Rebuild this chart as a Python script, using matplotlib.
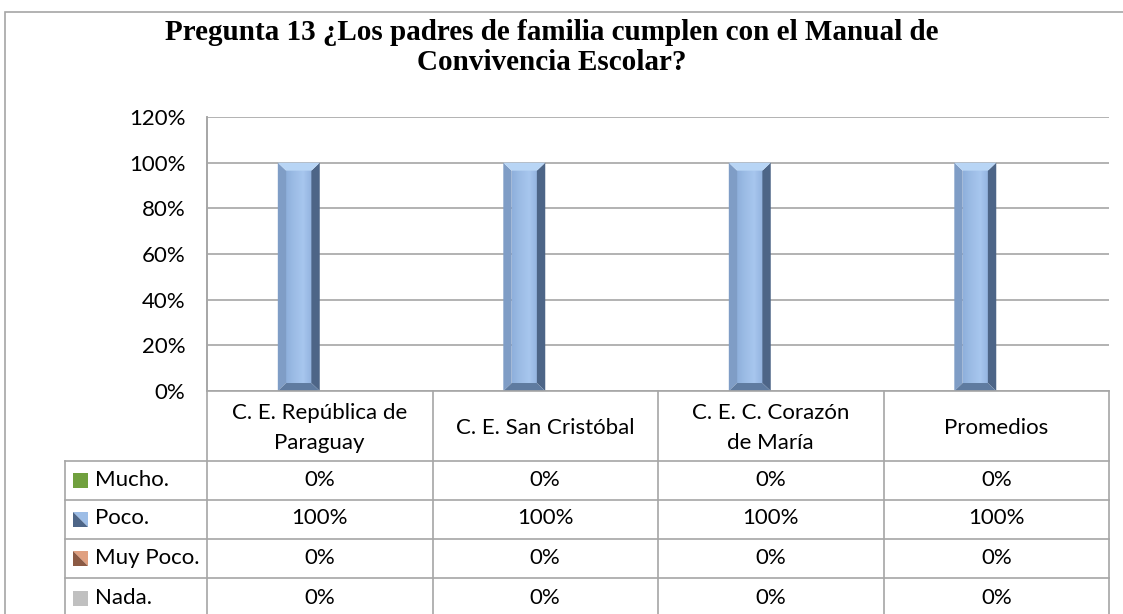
import numpy as np
import matplotlib.pyplot as plt
import matplotlib.transforms as mtransforms
from matplotlib.patches import Polygon, Rectangle

# data
categories = ["C. E. República de\nParaguay", "C. E. San Cristóbal",
              "C. E. C. Corazón\nde María", "Promedios"]
series_names = ["Mucho.", "Poco.", "Muy Poco.", "Nada."]
mucho = [0, 0, 0, 0]
poco = [100, 100, 100, 100]
muy_poco = [0, 0, 0, 0]
nada = [0, 0, 0, 0]
y_ticks = [0, 20, 40, 60, 80, 100, 120]

# colours per series: (face, left, right, top, bottom)
SERIES_COLORS = [
    ("#70a03e", "#5f8a33", "#46692a", "#8dbb5a", "#527a2e"),
    ("#9dbde6", "#7f9dc6", "#4d6587", "#b8d5f5", "#5f7ba0"),
    ("#e0a080", "#c08466", "#8c5a44", "#f0bba0", "#a06a50"),
    ("#c0c0c0", "#a8a8a8", "#808080", "#d8d8d8", "#969696"),
]
GRID = "#a6a6a6"
FONT = "Lato"
FS = 16

W, H = 1123, 614
fig = plt.figure(figsize=(W / 100, H / 100), dpi=100)


def px(x, y):
    """figure fraction from pixel position (top-left origin)"""
    return x / W, 1 - y / H


left, top = px(207, 117)
_, bottom = px(207, 391)
right, _ = px(1109, 117)
ax = fig.add_axes([left, bottom, right - left, top - bottom])

values = [mucho, poco, muy_poco, nada]
n = len(series_names)
bar_w = 0.186
x = np.arange(len(categories))


def bevel_bar(x0, x1, y0, y1, cols):
    dx = (x1 - x0) * 0.2
    dy = 3.5
    face, lc, rc, tc, bc = cols
    # face with a soft horizontal gradient
    grad = np.linspace(0, 1, 50).reshape(1, -1)
    ax.imshow(grad, extent=(x0 + dx, x1 - dx, y0 + dy, y1 - dy), aspect="auto",
              cmap=plt.matplotlib.colors.LinearSegmentedColormap.from_list(
                  "g", ["#8fb0dc", face, "#a7c6ee", "#93b3df"]),
              zorder=3.1)
    facets = [
        ([(x0, y0), (x0 + dx, y0 + dy), (x0 + dx, y1 - dy), (x0, y1)], lc),
        ([(x1, y0), (x1 - dx, y0 + dy), (x1 - dx, y1 - dy), (x1, y1)], rc),
        ([(x0, y1), (x0 + dx, y1 - dy), (x1 - dx, y1 - dy), (x1, y1)], tc),
        ([(x0, y0), (x1, y0), (x1 - dx, y0 + dy), (x0 + dx, y0 + dy)], bc),
    ]
    for pts, c in facets:
        ax.add_patch(Polygon(pts, closed=True, facecolor=c, edgecolor="none", zorder=3.2))


for i, vals in enumerate(values):
    bars = ax.bar(x + (i - (n - 1) / 2) * bar_w, vals, width=bar_w, color="none", zorder=2)
    for b in bars:
        if b.get_height() > 0:
            bevel_bar(b.get_x(), b.get_x() + b.get_width(), 0, b.get_height(), SERIES_COLORS[i])

ax.set_xlim(-0.5, len(categories) - 0.5)
ax.set_ylim(0, 120)
ax.set_yticks(y_ticks)
ax.set_yticklabels([f"{t}%" for t in y_ticks], fontsize=FS, family=FONT)
ax.tick_params(axis="y", length=0, pad=15.5)
ax.set_xticks([])
ax.grid(True, axis="y", color=GRID, linewidth=1.2, zorder=1)
for s in ["top", "right", "bottom"]:
    ax.spines[s].set_visible(False)
ax.spines["left"].set_color(GRID)
ax.spines["left"].set_linewidth(1.2)

# data table below the chart
tr = mtransforms.blended_transform_factory(ax.transData, fig.transFigure)
row_edges = [391, 461, 500, 539, 578, 620]
xl = -0.5
xr = len(categories) - 0.5
_, yf = px(0, 391)
fig.add_artist(plt.Line2D([xl, xr], [yf, yf], transform=tr, color=GRID, lw=1.2))
for r in row_edges[1:-1]:
    fig.add_artist(plt.Line2D([65 / W, right], [px(0, r)[1]] * 2,
                              transform=fig.transFigure, color=GRID, lw=1.2))
# vertical lines
fig.add_artist(plt.Line2D([left, left], [px(0, 117)[1], 0], transform=fig.transFigure,
                          color=GRID, lw=1.2))
fig.add_artist(plt.Line2D([65 / W, 65 / W], [px(0, 461)[1], 0], transform=fig.transFigure,
                          color=GRID, lw=1.2))
for b in np.arange(len(categories)) + 0.5:
    fig.add_artist(plt.Line2D([b, b], [yf, 0], transform=tr, color=GRID, lw=1.2))

# header row
hy = px(0, (row_edges[0] + row_edges[1]) / 2 + 2)[1]
for xi, c in zip(x, categories):
    fig.text(xi, hy, c, transform=tr, ha="center", va="center", fontsize=FS,
             family=FONT, linespacing=1.6)

# value rows
for r, (name, vals) in enumerate(zip(series_names, values)):
    yc = px(0, (row_edges[r + 1] + row_edges[r + 2]) / 2 - 1)[1]
    for xi, v in zip(x, vals):
        fig.text(xi, yc, f"{v}%", transform=tr, ha="center", va="center",
                 fontsize=FS, family=FONT)
    fig.text(95 / W, yc, name, ha="left", va="center", fontsize=FS, family=FONT)
    # legend key
    kx, ky = px(73, (row_edges[r + 1] + row_edges[r + 2]) / 2 - 8)
    kw, kh = 15 / W, 15 / H
    cols = SERIES_COLORS[r]
    if r in (0, 3):
        fig.add_artist(Rectangle((kx, ky - kh), kw, kh, transform=fig.transFigure,
                                 facecolor=cols[0], edgecolor="none"))
    else:
        fig.add_artist(Polygon([(kx, ky), (kx + kw, ky), (kx + kw, ky - kh)], closed=True,
                               transform=fig.transFigure, facecolor=cols[0], edgecolor="none"))
        fig.add_artist(Polygon([(kx, ky), (kx, ky - kh), (kx + kw, ky - kh)], closed=True,
                               transform=fig.transFigure, facecolor=cols[2], edgecolor="none"))

# title
title_kw = dict(ha="center", va="center", fontsize=21, fontweight="bold", family="Liberation Serif")
fig.text(552 / W, px(0, 33)[1], "Pregunta 13 ¿Los padres de familia cumplen con el Manual de", **title_kw)
fig.text(552 / W, px(0, 62)[1], "Convivencia Escolar?", **title_kw)

# outer chart border
fig.add_artist(Rectangle((5 / W, -0.05), 1.2, px(0, 12)[1] + 0.05, transform=fig.transFigure,
                         facecolor="none", edgecolor=GRID, lw=1.2))

fig.savefig("out.png", dpi=100)
